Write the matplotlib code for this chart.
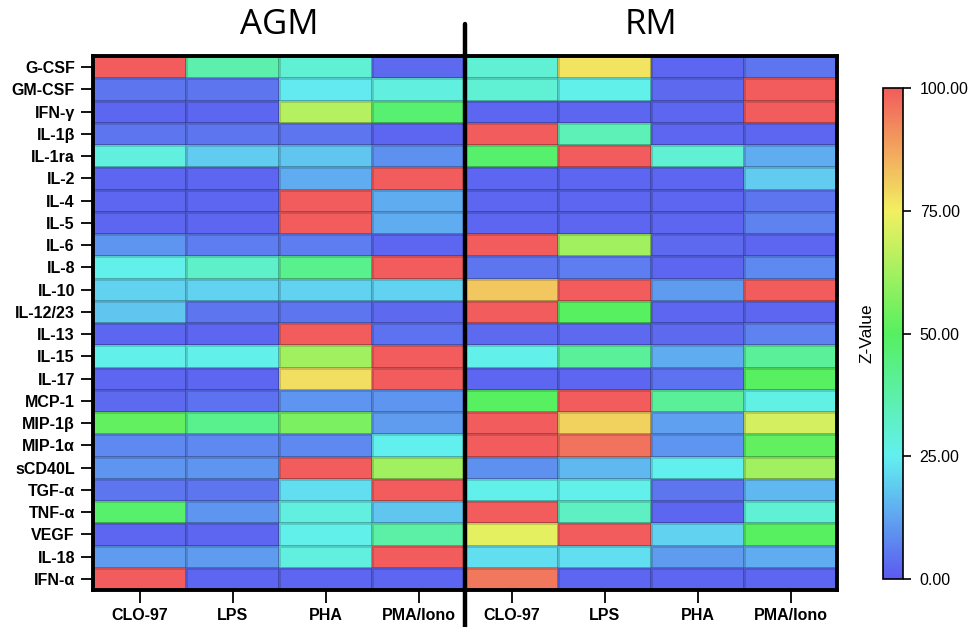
import numpy as np
import matplotlib
matplotlib.use("Agg")
import matplotlib.pyplot as plt
from matplotlib.colors import LinearSegmentedColormap
from matplotlib import transforms

plt.rcParams['font.family'] = ['Liberation Sans', 'DejaVu Sans']

cytokines = ['G-CSF', 'GM-CSF', 'IFN-γ', 'IL-1β', 'IL-1ra', 'IL-2', 'IL-4', 'IL-5',
             'IL-6', 'IL-8', 'IL-10', 'IL-12/23', 'IL-13', 'IL-15', 'IL-17', 'MCP-1',
             'MIP-1β', 'MIP-1α', 'sCD40L', 'TGF-α', 'TNF-α', 'VEGF', 'IL-18', 'IFN-α']
stimuli = ['CLO-97', 'LPS', 'PHA', 'PMA/Iono']
groups = ['AGM', 'RM']

# z-values per cytokine: CLO-97, LPS, PHA, PMA/Iono
agm = [
    [100, 37, 30, 3],
    [5, 5, 24, 28],
    [2, 2, 65, 47],
    [5, 5, 5, 2],
    [28, 19, 18, 9],
    [2, 2, 14, 100],
    [2, 2, 100, 14],
    [2, 2, 100, 14],
    [10, 6, 6, 2],
    [26, 32, 42, 100],
    [20, 20, 20, 20],
    [18, 5, 5, 3],
    [2, 2, 100, 4],
    [26, 26, 62, 100],
    [2, 2, 78, 100],
    [3, 4, 10, 10],
    [52, 42, 56, 11],
    [8, 8, 8, 25],
    [10, 10, 100, 62],
    [5, 5, 22, 100],
    [48, 10, 28, 18],
    [2, 2, 26, 38],
    [11, 11, 28, 100],
    [100, 2, 2, 2],
]
rm = [
    [30, 77, 2, 5],
    [30, 26, 3, 100],
    [2, 2, 2, 100],
    [100, 35, 2, 2],
    [48, 100, 30, 14],
    [2, 2, 2, 19],
    [2, 2, 2, 5],
    [2, 2, 2, 7],
    [100, 62, 3, 2],
    [5, 6, 2, 8],
    [82, 100, 11, 100],
    [100, 50, 2, 2],
    [3, 3, 3, 7],
    [26, 40, 14, 40],
    [2, 2, 4, 50],
    [50, 100, 40, 27],
    [100, 80, 12, 70],
    [100, 96, 10, 52],
    [9, 16, 25, 62],
    [26, 26, 5, 16],
    [100, 33, 2, 30],
    [73, 100, 20, 50],
    [22, 22, 11, 14],
    [95, 2, 2, 2],
]

z = np.hstack([np.array(agm), np.array(rm)])

cmap = LinearSegmentedColormap.from_list(
    'zval',
    [(0.0, '#5c5af0'), (0.25, '#62f0f0'), (0.5, '#55f060'),
     (0.75, '#f2f060'), (1.0, '#f25c5c')])

fig = plt.figure(figsize=(9.73, 6.27), dpi=100)
ax = fig.add_axes([93 / 973, 1 - 590 / 627, 744 / 973, 534 / 627])

mesh = ax.pcolormesh(z, cmap=cmap, vmin=0, vmax=100,
                     edgecolors=(0, 0, 0, 0.15), linewidth=0.8)
ax.set_xlim(0, z.shape[1])
ax.set_ylim(z.shape[0], 0)

ax.set_yticks(np.arange(z.shape[0]) + 0.5)
ax.set_yticklabels(cytokines, fontsize=11.5, fontweight='bold')
ax.set_xticks(np.arange(z.shape[1]) + 0.5)
ax.set_xticklabels(stimuli * 2, fontsize=11.5, fontweight='bold')
ax.tick_params(axis='both', length=9, width=1.3, pad=4)
for s in ax.spines.values():
    s.set_linewidth(2.8)

# divider between the two groups
tr = transforms.blended_transform_factory(ax.transData, ax.transAxes)
ax.plot([4, 4], [-0.1, 1.06], color='black', lw=3.2, transform=tr,
        clip_on=False, solid_capstyle='round')

for i, g in enumerate(groups):
    ax.text(2 + 4 * i, 1.058, g, transform=tr, ha='center', va='center',
            fontsize=25, family=['Open Sans', 'DejaVu Sans'])

cax = fig.add_axes([883 / 973, 1 - 579 / 627, 20 / 973, 491 / 627])
cb = fig.colorbar(mesh, cax=cax, ticks=[0, 25, 50, 75, 100], format='%.2f')
cb.outline.set_linewidth(1.2)
cax.tick_params(length=6, width=1.2, pad=6)
for t in cax.get_yticklabels():
    t.set_fontsize(11.5)
cax.yaxis.set_label_position('left')
cax.set_ylabel('Z-Value', fontsize=12.5, labelpad=6)

fig.savefig('out.png', dpi=100)
